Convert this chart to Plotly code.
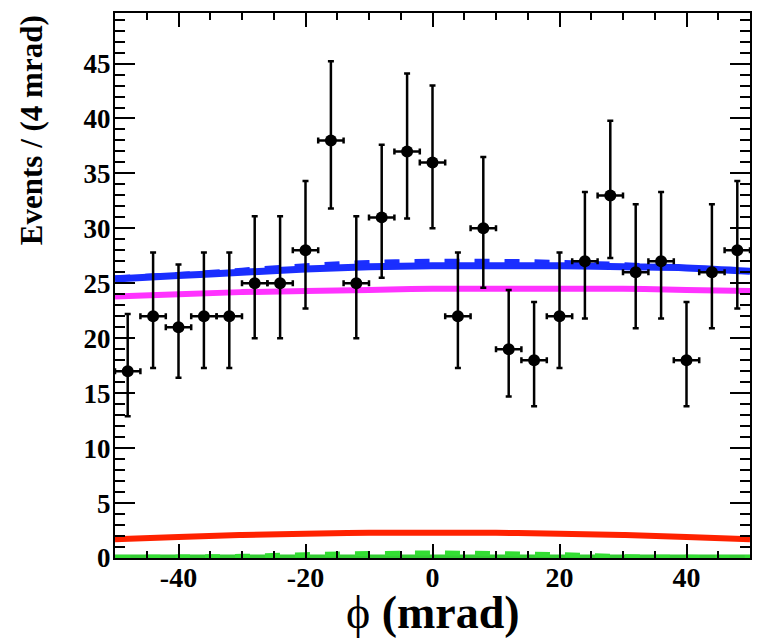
import plotly.graph_objects as go

# data points
phi = [-48, -44, -40, -36, -32, -28, -24, -20, -16, -12, -8, -4, 0, 4, 8, 12, 16, 20, 24, 28, 32, 36, 40, 44, 48]
events = [17, 22, 21, 22, 22, 25, 25, 28, 38, 25, 31, 37, 36, 22, 30, 19, 18, 22, 27, 33, 26, 27, 18, 26, 28]
err_hi = [5.2, 5.8, 5.7, 5.8, 5.8, 6.1, 6.1, 6.3, 7.2, 6.1, 6.6, 7.1, 7.0, 5.8, 6.5, 5.4, 5.3, 5.8, 6.3, 6.8, 6.2, 6.3, 5.3, 6.2, 6.3]
err_lo = [4.1, 4.7, 4.6, 4.7, 4.7, 5.0, 5.0, 5.3, 6.2, 5.0, 5.5, 6.1, 6.0, 4.7, 5.4, 4.3, 4.2, 4.7, 5.2, 5.7, 5.1, 5.2, 4.2, 5.1, 5.3]
bin_half = [2] * len(phi)

# fit curves
curve_x = [-50, -40, -30, -20, -10, 0, 10, 20, 30, 40, 50]
total_fit = [25.4, 25.7, 26.0, 26.3, 26.5, 26.6, 26.6, 26.6, 26.5, 26.4, 26.1]
total_fit_dashed = [25.5, 25.8, 26.2, 26.6, 26.9, 27.0, 27.0, 26.9, 26.7, 26.4, 26.1]
magenta_comp = [23.8, 24.0, 24.2, 24.3, 24.4, 24.5, 24.5, 24.5, 24.5, 24.4, 24.3]
red_comp = [1.7, 1.9, 2.1, 2.2, 2.3, 2.3, 2.3, 2.2, 2.1, 1.9, 1.7]
green_comp = [0.05, 0.05, 0.05, 0.05, 0.05, 0.05, 0.05, 0.05, 0.05, 0.05, 0.05]
green_dashed = [0.05, 0.08, 0.15, 0.3, 0.4, 0.45, 0.4, 0.3, 0.12, 0.06, 0.05]

x_tickvals = [-40, -20, 0, 20, 40]
x_ticktext = ["-40", "-20", "0", "20", "40"]
x_range = [-50, 50]
y_range = [0, 49.6]

fig = go.Figure()

def line(y, color, dash="solid", width=6):
    fig.add_trace(go.Scatter(x=curve_x, y=y, mode="lines",
                             line=dict(color=color, width=width, dash=dash, shape="spline"),
                             showlegend=False, hoverinfo="skip"))

line(green_comp, "#33cc33", width=6)
line(green_dashed, "#33dd33", dash="dash", width=5)
line(red_comp, "#ff2200", width=6)
line(magenta_comp, "#ff33ff", width=6)
line(total_fit, "#1a2eff", width=7)
line(total_fit_dashed, "#1a2eff", dash="dash", width=5)

fig.add_trace(go.Scatter(
    x=phi, y=events, mode="markers",
    marker=dict(color="black", size=12, symbol="circle"),
    error_y=dict(type="data", symmetric=False, array=err_hi, arrayminus=err_lo,
                 color="black", thickness=2.5, width=3),
    error_x=dict(type="data", array=bin_half, color="black", thickness=2.5, width=3),
    showlegend=False,
))

# invisible trace so the minor-tick overlay axes are drawn
fig.add_trace(go.Scatter(x=[None], y=[None], xaxis="x2", yaxis="y2", showlegend=False, hoverinfo="skip"))

font_family = "Liberation Serif, Times New Roman, serif"

fig.update_layout(
    width=755, height=630,
    margin=dict(l=107, r=13, t=5, b=80),
    paper_bgcolor="white", plot_bgcolor="white",
    font=dict(family=font_family, color="black"),
    xaxis=dict(
        range=x_range, tickmode="array", tickvals=x_tickvals, ticktext=x_ticktext,
        ticks="inside", ticklen=14, tickwidth=2, tickcolor="black",
        showline=True, linecolor="black", linewidth=2, mirror="ticks",
        showgrid=False, zeroline=False, automargin=False,
        tickfont=dict(size=28, family=font_family, weight="bold"),
        ticklabelstandoff=-7,
    ),
    yaxis=dict(
        range=y_range, tickmode="linear", tick0=0, dtick=5,
        ticks="inside", ticklen=20, tickwidth=2, tickcolor="black",
        showline=True, linecolor="black", linewidth=2, mirror="ticks",
        showgrid=False, zeroline=False, automargin=False,
        tickfont=dict(size=27, family=font_family, weight="bold"),
        ticklabelstandoff=-3,
    ),
    xaxis2=dict(
        range=x_range, overlaying="x", anchor="y2", side="bottom", tickmode="linear", tick0=0, dtick=5,
        ticks="inside", ticklen=7, tickwidth=2, tickcolor="black", showticklabels=False,
        showline=False, mirror="ticks", showgrid=False, zeroline=False, automargin=False,
    ),
    yaxis2=dict(
        range=y_range, overlaying="y", anchor="x2", side="left", tickmode="linear", tick0=0, dtick=1,
        ticks="inside", ticklen=10, tickwidth=2, tickcolor="black", showticklabels=False,
        showline=False, mirror="ticks", showgrid=False, zeroline=False, automargin=False,
    ),
    annotations=[
        dict(text="<b>Events / (4 mrad)</b>", textangle=-90, showarrow=False,
             xref="paper", yref="paper", x=-0.132, y=1.0, xanchor="center", yanchor="top",
             font=dict(size=31, family=font_family)),
        dict(text="ϕ <b>(mrad)</b>", showarrow=False,
             xref="paper", yref="paper", x=0.5, y=-0.1, xanchor="center", yanchor="middle",
             font=dict(size=46, family=font_family)),
    ],
)

fig.write_html("out.html")
